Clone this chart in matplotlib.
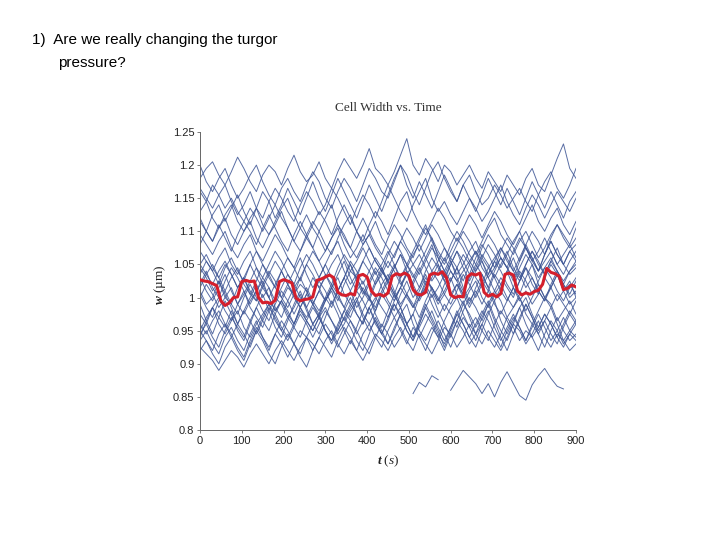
import numpy as np
import matplotlib
matplotlib.use("Agg")
import matplotlib.pyplot as plt

plt.rcParams['mathtext.fontset'] = 'custom'
plt.rcParams['mathtext.rm'] = 'Liberation Serif'
plt.rcParams['mathtext.it'] = 'Liberation Serif:italic'
plt.rcParams['mathtext.bf'] = 'Liberation Serif:bold'
plt.rcParams['mathtext.bfit'] = 'Liberation Serif:italic:bold'

# individual cell widths, in nm, sampled evenly over 0-900 s
traces_nm = [
    [1180,1195,1205,1185,1170,1190,1212,1195,1175,1160,
     1185,1200,1190,1170,1195,1215,1190,1175,1185,1205,
     1180,1165,1190,1210,1195,1180,1200,1225,1195,1185,
     1170,1190,1215,1240,1200,1185,1210,1195,1175,1200,
     1190,1170,1185,1200,1180,1165,1190,1175,1160,1185,
     1170,1155,1180,1195,1170,1160,1185,1210,1232,1195,1180],
    [1200,1175,1160,1180,1195,1170,1150,1165,1185,1200,
     1175,1155,1140,1165,1180,1160,1145,1170,1190,1175,
     1150,1135,1160,1180,1165,1145,1170,1195,1180,1160,
     1150,1175,1200,1185,1160,1140,1165,1190,1205,1180,
     1160,1145,1170,1185,1160,1140,1150,1170,1155,1135,
     1150,1165,1145,1130,1155,1175,1190,1165,1150,1170,1195],
    [1165,1150,1135,1155,1170,1145,1125,1140,1160,1135,
     1120,1145,1165,1150,1130,1115,1140,1160,1145,1125,
     1140,1165,1150,1130,1110,1135,1155,1140,1120,1145,
     1170,1150,1130,1115,1140,1160,1180,1150,1130,1145,
     1125,1110,1130,1150,1135,1115,1130,1150,1170,1145,
     1125,1110,1135,1155,1140,1120,1140,1160,1145,1130,1150],
    [1130,1145,1120,1105,1125,1140,1115,1100,1120,1135,
     1110,1095,1115,1135,1150,1125,1105,1090,1110,1130,
     1115,1095,1120,1140,1120,1100,1085,1110,1130,1115,
     1095,1120,1145,1160,1130,1110,1095,1115,1135,1120,
     1100,1085,1105,1125,1110,1090,1110,1130,1115,1095,
     1080,1100,1120,1140,1115,1100,1120,1135,1110,1095,1115],
    [1115,1100,1085,1105,1120,1095,1080,1100,1115,1090,
     1075,1095,1110,1130,1105,1085,1070,1095,1115,1100,
     1080,1065,1090,1110,1125,1100,1080,1095,1115,1090,
     1075,1060,1085,1105,1090,1070,1090,1110,1095,1075,
     1060,1080,1100,1085,1065,1085,1105,1120,1095,1080,
     1065,1085,1100,1080,1060,1075,1095,1110,1090,1075,1090],
    [1095,1080,1065,1085,1100,1075,1060,1080,1095,1070,
     1055,1075,1095,1080,1060,1045,1070,1090,1075,1055,
     1070,1090,1105,1080,1060,1075,1095,1075,1055,1040,
     1065,1085,1070,1050,1070,1090,1110,1085,1065,1050,
     1070,1090,1075,1055,1040,1060,1080,1065,1045,1065,
     1085,1100,1075,1055,1070,1090,1070,1050,1065,1080,1060],
    [1070,1055,1040,1060,1075,1050,1035,1055,1070,1045,
     1030,1050,1070,1055,1035,1020,1045,1065,1050,1030,
     1050,1070,1085,1060,1040,1055,1075,1055,1035,1050,
     1070,1050,1030,1045,1065,1080,1060,1040,1055,1075,
     1055,1035,1050,1070,1085,1060,1045,1060,1075,1055,
     1040,1060,1080,1060,1040,1055,1070,1050,1035,1055,1070],
    [1050,1035,1020,1040,1055,1035,1015,1030,1050,1030,
     1015,1035,1055,1040,1020,1005,1030,1050,1035,1015,
     1030,1050,1065,1040,1020,1035,1055,1040,1020,1035,
     1055,1040,1020,1035,1050,1065,1045,1025,1040,1060,
     1040,1025,1040,1055,1070,1045,1030,1045,1060,1045,
     1025,1045,1065,1050,1030,1045,1060,1040,1025,1040,1055],
    [1045,1030,1010,1025,1000,990,1015,1030,1005,995,
     1020,1040,1025,1000,985,1005,1020,1010,990,1010,
     1035,1015,995,1020,1040,1030,1010,1000,1025,1045,
     1020,1000,1015,1035,1010,995,1015,1030,1050,1025,
     1005,1020,1000,1015,1040,1055,1030,1010,1030,1015,
     1000,1025,1045,1020,1005,1030,1050,1035,1010,1020,1005],
    [1000,1020,1005,985,1000,1015,990,975,995,1010,
     1025,1000,980,995,1015,1005,985,970,990,1010,
     995,1015,1030,1005,990,1010,995,975,995,1020,
     1035,1010,990,1005,985,1000,1025,1015,995,1010,
     1030,1005,990,1010,1025,1000,985,1005,1020,1040,
     1015,995,1010,990,1005,1030,1015,995,1010,1025,1000],
    [975,960,985,1000,980,965,990,1010,985,970,
     955,980,1000,990,970,985,1005,980,960,975,
     995,1010,985,965,985,1000,975,960,980,1005,
     990,970,985,960,975,1000,1015,990,970,990,
     975,955,980,1000,985,965,990,1010,995,970,
     985,1000,975,960,980,1000,990,965,980,995,975],
    [950,970,985,960,945,965,980,955,940,960,
     975,990,965,950,970,955,940,965,985,970,
     950,935,960,980,965,945,965,985,960,945,
     970,990,970,950,935,955,975,960,940,965,
     985,1000,975,955,970,950,935,960,980,965,
     945,965,990,970,950,965,945,930,955,975,960],
    [935,950,930,915,940,955,935,920,945,965,
     940,925,945,930,910,930,950,940,920,940,
     960,945,925,945,965,950,930,915,940,960,
     945,925,940,960,975,950,935,955,940,920,
     945,965,950,930,945,960,940,925,945,970,
     955,935,950,940,920,945,965,950,930,945,935],
    [925,915,905,890,905,920,910,895,915,930,
     915,900,920,935,920,905,925,940,930,915,
     935,950,930,915,935,920,905,925,945,935,
     920,940,955,935,920,945,930,915,935,955,
     945,925,940,960,945,930,950,935,920,940,
     960,950,930,945,965,940,925,945,935,920,930],
    [1050,1065,1045,1030,1050,1035,1015,1030,1010,995,
     1015,1000,980,995,975,960,980,965,950,970,
     985,965,950,970,990,975,960,985,1000,985,
     970,995,1015,1000,985,1010,1030,1015,995,1020,
     1040,1025,1005,1030,1050,1035,1015,1040,1060,1045,
     1030,1055,1075,1060,1040,1065,1085,1065,1050,1070,1080],
    [1160,1145,1170,1155,1135,1150,1130,1115,1135,1120,
     1100,1120,1140,1120,1105,1085,1105,1125,1105,1090,
     1070,1090,1110,1095,1075,1060,1080,1095,1075,1060,
     1045,1065,1085,1070,1050,1035,1055,1075,1060,1040,
     1025,1045,1065,1050,1030,1015,1035,1055,1040,1020,
     1005,1025,1045,1030,1010,995,1015,1035,1020,1000,1010],
    [945,960,940,925,950,970,955,940,965,985,
     965,950,975,995,980,960,985,1005,990,970,
     995,1015,1000,985,1010,1030,1010,995,1020,1040,
     1025,1005,1030,1050,1035,1015,1040,1060,1045,1025,
     1050,1070,1055,1035,1060,1080,1065,1045,1070,1090,
     1075,1055,1080,1100,1085,1065,1090,1110,1095,1080,1105],
    [990,965,945,970,995,975,950,935,960,985,
     1005,980,955,940,965,990,1010,985,960,945,
     970,995,975,950,930,955,980,1000,975,955,
     980,1005,985,960,940,965,990,970,950,925,
     950,975,995,970,945,970,990,965,940,920,
     945,970,990,970,945,965,985,960,935,950,965],
    [1020,1040,1015,1000,1025,1045,1030,1010,990,1010,
     1030,1015,995,1015,1035,1020,1000,985,1005,1025,
     1010,990,1010,1030,1050,1025,1005,1025,1045,1030,
     1010,995,1015,1040,1020,1000,1020,1040,1025,1005,
     990,1010,1035,1020,1000,1020,1045,1030,1010,995,
     1015,1040,1025,1005,1025,1045,1030,1010,995,1015,1030],
    [1080,1100,1085,1110,1090,1070,1095,1115,1100,1080,
     1105,1125,1105,1085,1070,1095,1115,1095,1075,1100,
     1120,1140,1110,1090,1075,1100,1120,1100,1080,1065,
     1090,1110,1095,1075,1060,1085,1105,1090,1070,1055,
     1080,1100,1085,1065,1050,1075,1095,1080,1060,1045,
     1070,1090,1075,1055,1040,1065,1085,1065,1050,1070,1055],
    [1035,1055,1040,1020,1045,1060,1040,1025,1050,1070,
     1050,1030,1015,1040,1060,1045,1025,1050,1070,1055,
     1035,1020,1045,1065,1050,1030,1055,1075,1055,1040,
     1025,1045,1065,1050,1030,1050,1070,1090,1060,1040,
     1060,1045,1025,1050,1070,1055,1035,1055,1075,1060,
     1040,1025,1050,1070,1050,1035,1055,1040,1020,1040,1050],
    [920,935,915,900,925,940,920,905,930,950,
     935,915,900,925,945,930,910,895,920,940,
     925,910,935,955,940,920,945,960,940,925,
     950,970,950,930,955,940,920,945,965,945,
     925,950,970,955,935,960,980,955,935,955,
     975,955,935,960,945,925,950,970,950,935,945],
    [1120,1100,1125,1140,1115,1135,1155,1130,1110,1135,
     1160,1145,1120,1140,1165,1145,1125,1150,1175,1150,
     1130,1155,1180,1160,1140,1120,1145,1170,1150,1130,
     1155,1180,1200,1170,1150,1175,1155,1135,1160,1185,
     1165,1145,1170,1150,1130,1155,1180,1160,1140,1165,
     1145,1125,1150,1175,1155,1135,1160,1140,1120,1145,1160],
    [1005,985,970,995,1010,990,975,1000,1020,1000,
     980,965,990,1010,995,975,995,1015,995,980,
     1000,1020,1005,985,970,995,1015,1000,980,1005,
     1025,1005,985,1005,990,970,995,1015,1000,980,
     1000,1020,1005,985,1005,1025,1010,990,975,995,
     1015,1000,980,1000,1020,1000,985,1005,990,975,995],
    [960,945,965,980,960,940,960,980,965,945,
     965,985,970,950,935,955,975,960,940,960,
     980,965,945,960,980,995,970,950,965,945,
     930,955,975,960,940,960,985,965,945,930,
     955,975,960,940,960,980,965,945,925,950,
     970,955,935,955,975,955,935,950,970,950,940],
    [1010,990,1000,1025,1005,985,960,980,1000,1020,
     1000,1015,985,970,995,1015,1030,1010,990,975,
     1000,985,1010,1030,1010,985,1000,1020,1040,1015,
     995,980,1005,1025,1000,1015,1035,1010,990,1005,
     1025,1045,1015,995,1010,990,1010,1035,1020,1000,
     985,1005,1030,1050,1020,1000,1015,1035,1010,990,1000],
    [940,965,985,970,955,980,960,945,925,950,
     970,990,975,955,940,960,985,965,950,970,
     950,935,955,980,1000,975,960,985,965,945,
     965,990,975,950,935,960,985,1005,980,960,
     940,965,990,975,955,975,995,970,950,935,
     960,985,1000,975,955,975,960,940,960,980,965],
    [1015,1035,1050,1030,1010,1030,1045,1020,1005,1025,
     1050,1035,1015,1000,1020,1040,1060,1035,1015,1030,
     1050,1030,1010,1030,1055,1040,1020,1040,1060,1045,
     1025,1045,1065,1040,1020,1040,1060,1080,1050,1030,
     1050,1070,1045,1025,1045,1065,1050,1030,1050,1070,
     1045,1030,1050,1070,1055,1035,1055,1075,1050,1035,1045],
    [950,935,920,945,960,945,925,910,935,955,
     940,920,945,965,950,930,915,940,960,975,
     950,930,950,970,955,935,920,945,970,950,
     930,950,975,990,960,940,960,980,955,935,
     955,980,960,940,925,950,975,995,965,945,
     965,985,960,940,955,975,960,940,925,945,960],
    [1030,1010,995,1015,1035,1010,990,1005,1025,1045,
     1020,1000,1020,1040,1020,1000,985,1005,1030,1015,
     995,1015,1035,1055,1030,1010,1025,1000,985,1010,
     1030,1050,1025,1005,1025,1045,1020,1000,1015,1035,
     1055,1030,1010,990,1015,1035,1015,995,1015,1040,
     1060,1035,1015,1030,1010,995,1020,1040,1020,1005,1025],
]

# one cell tracked only in the second half (gaps = lost frames)
low_t = [510, 525, 540, 555, 570, 585, 600, 615, 630, 645, 660, 675, 690,
         705, 720, 735, 750, 765, 780, 795, 810, 825, 840, 855, 870]
low_nm = [855, 872, 865, 882, 876, None, 860, 875, 890, 880, 870, 855, 870,
          850, 872, 888, 870, 852, 845, 868, 882, 893, 878, 866, 862]

# mean width, every 10 s
mean_t = list(range(0, 901, 10))
mean_nm = [1027,1025,1024,1021,1018,995,988,992,1000,1001,
           1024,1026,1024,1025,1000,992,993,991,996,1024,
           1027,1025,1022,999,995,997,998,1001,1026,1028,
           1031,1034,1030,1008,1004,1003,1006,1004,1033,1035,
           1031,1010,1003,1005,1002,1007,1032,1036,1034,1037,
           1033,1012,1005,1004,1008,1034,1037,1035,1039,1030,
           1004,1000,1002,1001,1031,1036,1034,1037,1008,1002,
           1005,1001,1006,1035,1037,1034,1010,1004,1007,1005,
           1009,1011,1020,1044,1038,1036,1032,1012,1014,1019,1016]

yticks = [0.8, 0.85, 0.9, 0.95, 1.0, 1.05, 1.1, 1.15, 1.2, 1.25]
ytick_labels = ["0.8", "0.85", "0.9", "0.95", "1", "1.05", "1.1", "1.15", "1.2", "1.25"]
xticks = list(range(0, 901, 100))

fig = plt.figure(figsize=(7.2, 5.4), dpi=100)
ax = fig.add_axes([200/720, 1 - 430/540, 376/720, 298/540])

blue = '#3c5494'
for tr in traces_nm:
    w = np.array(tr, dtype=float) / 1000
    t = np.linspace(0, 900, len(w))
    ax.plot(t, w, color=blue, lw=0.7, alpha=0.85)
ax.plot(low_t, np.array(low_nm, dtype=float) / 1000, color=blue, lw=0.7, alpha=0.85)

ax.plot(mean_t, np.array(mean_nm) / 1000, color='#d41f2c', lw=2.2, zorder=5)

ax.set_xlim(0, 900)
ax.set_ylim(0.8, 1.25)
ax.set_xticks(xticks)
ax.set_yticks(yticks)
ax.set_yticklabels(ytick_labels)
for s in ['top', 'right']:
    ax.spines[s].set_visible(False)
for s in ['left', 'bottom']:
    ax.spines[s].set_color('#666666')
    ax.spines[s].set_linewidth(0.7)
ax.tick_params(length=2.5, width=0.6, color='#666666', pad=1.5,
               labelsize=8, labelcolor='#222222')
for lab in ax.get_xticklabels() + ax.get_yticklabels():
    lab.set_family('Liberation Sans')

fig.text(388/720, 1 - 108/540, 'Cell Width vs. Time', family='Liberation Serif',
         fontsize=9.5, color='#333333', ha='center', va='center')
fig.text(160/720, 1 - 285/540, r'$\mathbfit{w}$ (µm)', family='Liberation Serif',
         fontsize=9.5, color='#222222', rotation=90, ha='center', va='center')
fig.text(388/720, 1 - 461/540, r'$\mathbfit{t}$ ($\mathit{s}$)', family='Liberation Serif',
         fontsize=9.5, color='#222222', ha='center', va='center')

fig.text(32/720, 1 - 40/540, '1)  Are we really changing the turgor',
         family='Liberation Sans', fontsize=11, ha='left', va='center')
fig.text(58/720, 1 - 63/540, 'pressure?',
         family='Liberation Sans', fontsize=11, ha='left', va='center')

fig.savefig('out.png', dpi=100)
